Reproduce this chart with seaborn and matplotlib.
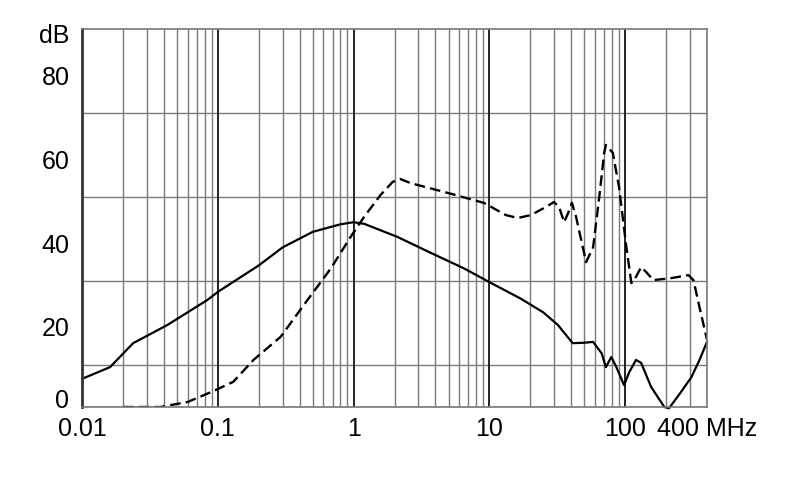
import matplotlib
matplotlib.use("Agg")
import matplotlib.pyplot as plt
import matplotlib.transforms as mtransforms
import seaborn as sns

# solid curve
solid_freq = [0.01, 0.0161, 0.0238, 0.0424, 0.084, 0.1, 0.2, 0.3, 0.5, 0.8, 1.0, 1.2,
              2.1, 3.7, 6.5, 9.9, 17, 25, 32, 41, 50, 58, 67, 72, 79, 86, 98, 107, 120,
              131, 155, 194, 210, 250, 307, 350, 400]
solid_db = [6.7, 9.5, 15.2, 19.5, 25.5, 27.4, 33.7, 38.0, 41.7, 43.5, 44.0, 43.6,
            40.5, 36.7, 33.0, 29.8, 25.8, 22.5, 19.5, 15.2, 15.3, 15.5, 12.8, 9.5, 11.9,
            9.5, 5.2, 8.3, 11.2, 10.5, 4.8, 0.0, -0.3, 3.0, 7.1, 11.0, 15.5]

# dashed curve
dash_freq = [0.02, 0.0377, 0.06, 0.093, 0.13, 0.183, 0.29, 0.458, 0.68, 0.95, 1.19,
             1.58, 1.94, 2.2, 2.63, 4.9, 9.1, 13.2, 16.2, 20.2, 25.3, 29.9, 32.6, 35.5,
             38, 40.5, 43.5, 51.5, 58, 64, 70, 72, 81, 90, 102, 111, 120, 131, 143,
             161, 219, 292, 318, 352, 400]
dash_db = [0.0, 0.0, 1.2, 3.8, 6.0, 11.2, 16.7, 25.5, 33.0, 40.5, 45.2, 50.5, 53.6,
           54.3, 53.3, 51.0, 48.6, 45.7, 45.0, 45.7, 47.4, 48.8, 47.6, 44.0, 46.2, 48.6,
           45.2, 34.5, 38.0, 49.3, 60.5, 62.4, 60.5, 52.4, 38.0, 29.5, 31.0, 33.3, 32.1,
           30.2, 30.7, 31.4, 30.2, 23.8, 16.0]

x_ticks = [0.01, 0.1, 1, 10, 100, 400]
x_labels = ["0.01", "0.1", "1", "10", "100", "400 MHz"]
y_ticks = [0, 20, 40, 60, 80, 90]
y_labels = ["0", "20", "40", "60", "80", "dB"]

sns.set_style("white")
plt.rcParams["font.family"] = ["Liberation Sans", "DejaVu Sans"]

fig = plt.figure(figsize=(7.9, 4.99), dpi=100)
ax = fig.add_axes([82 / 790, 1 - 407 / 499, 625 / 790, 378 / 499])

ax.set_xscale("log")
ax.set_xlim(0.01, 400)
ax.set_ylim(0, 90)

# grid: minor lines at 2..9 of each decade, 10 dB horizontal
minor_x = [m * 10.0 ** e for e in range(-2, 3) for m in range(1, 10) if m * 10.0 ** e <= 400]
ax.set_xticks(minor_x, minor=True)
ax.set_yticks(list(range(0, 91, 10)), minor=True)
ax.grid(False)
ax.grid(True, which="minor", color="#7a7a7a", linewidth=1.0)
for d in [0.1, 1, 10, 100]:
    ax.axvline(d, color="#222222", linewidth=1.4, zorder=1.5)

sns.lineplot(x=solid_freq, y=solid_db, color="black", linewidth=1.6, ax=ax,
             sort=False, clip_on=False)
sns.lineplot(x=dash_freq, y=dash_db, color="black", linewidth=1.7, ax=ax,
             sort=False, linestyle=(0, (4.5, 2.2)))

ax.set_xticks(x_ticks)
ax.set_xticklabels(x_labels)
ax.set_yticks(y_ticks)
ax.set_yticklabels(y_labels)
ax.tick_params(axis="both", which="both", length=0, labelsize=18, colors="black")
ax.tick_params(axis="y", pad=9)
ax.tick_params(axis="x", pad=7)

# y labels sit a bit below their lines; the "0" is lifted above the axis
for i, lbl in enumerate(ax.get_yticklabels()):
    dy = 8 if i == 0 else -4
    lbl.set_transform(lbl.get_transform() + mtransforms.ScaledTranslation(0, dy / 100, fig.dpi_scale_trans))

for side in ["top", "right", "bottom"]:
    ax.spines[side].set_color("#777777")
    ax.spines[side].set_linewidth(1.2)
ax.spines["left"].set_color("#333333")
ax.spines["left"].set_linewidth(2.0)

fig.savefig("out.png", dpi=100)
